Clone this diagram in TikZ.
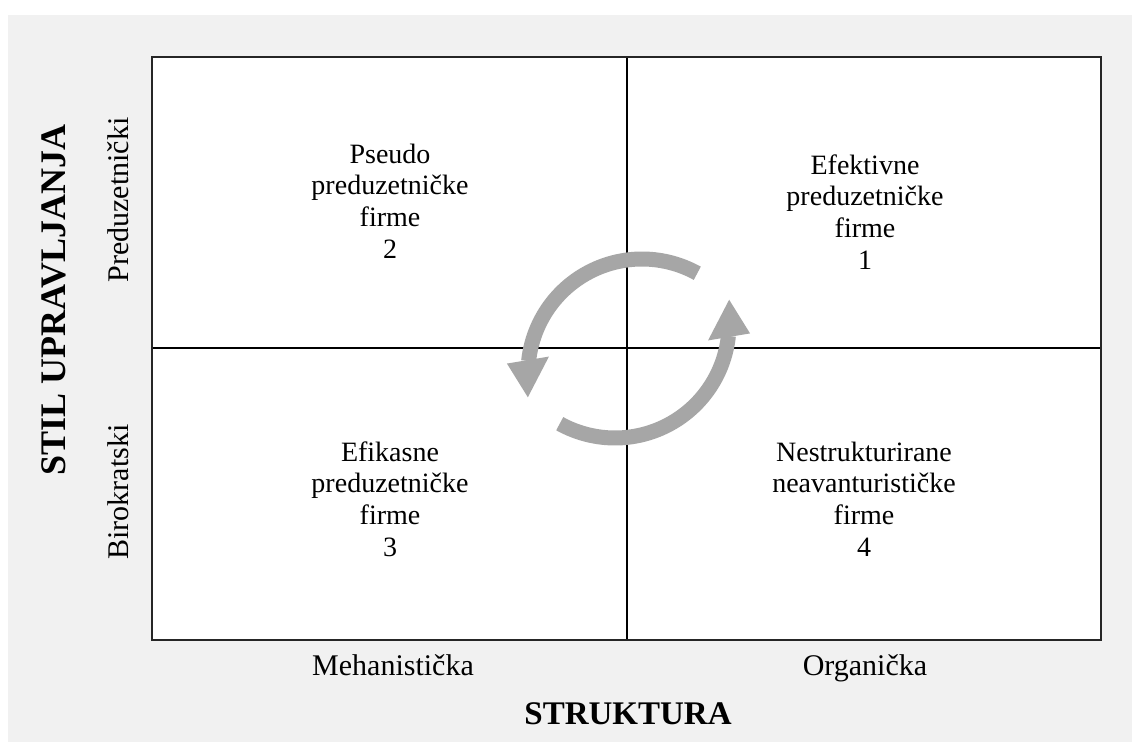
\documentclass[tikz,border=0pt]{standalone}
\usepackage{fontspec}
\setmainfont{Liberation Serif}
\definecolor{panel}{HTML}{F1F1F1}
\definecolor{arrowgray}{HTML}{A6A6A6}
\definecolor{boxline}{HTML}{262626}
\begin{document}
\begin{tikzpicture}[x=1pt,y=1pt,
  quad/.style={align=center, font=\fontsize{28}{31.8}\selectfont, inner sep=0pt},
  axislbl/.style={font=\fontsize{30}{34}\selectfont, inner sep=0pt, anchor=base},
  xtitle/.style={font=\fontsize{33}{38}\selectfont\bfseries, inner sep=0pt, anchor=base},
  ytitle/.style={font=\fontsize{36}{40}\selectfont\bfseries, inner sep=0pt, anchor=base, rotate=90},
  gridline/.style={line width=1.3pt, draw=black},
  frame/.style={line width=2pt, draw=boxline},
  cycbody/.style={line width=15pt, draw=arrowgray, line cap=butt},
  cychead/.style={fill=arrowgray}
]
\useasboundingbox (0,0) rectangle (1132,742);
\fill[white] (0,0) rectangle (1132,742);
\fill[panel] (8,0) rectangle (1132,727);

% matrix box
\coordinate (bl) at (152,102);
\coordinate (tr) at (1101,685);
\coordinate (tm) at (627,685);
\coordinate (bm) at (627,102);
\coordinate (lm) at (152,394);
\coordinate (rm) at (1101,394);
\fill[white] (bl) rectangle (tr);
\draw[gridline] (tm) -- (bm);
\draw[gridline] (lm) -- (rm);
\draw[frame] (bl) rectangle (tr);

% circular arrows
\coordinate (c1) at (642,369);
\coordinate (c2) at (615,418);
\draw[cycbody] ([shift={(61:114)}]c1) arc[start angle=61, end angle=174, radius=114];
\fill[cychead] ([shift={(176:135.4)}]c1) -- ([shift={(170:94.5)}]c1) -- ([shift={(192:116.7)}]c1) -- cycle;
\draw[cycbody] ([shift={(241:114)}]c2) arc[start angle=241, end angle=354, radius=114];
\fill[cychead] ([shift={(356:135.4)}]c2) -- ([shift={(350:94.5)}]c2) -- ([shift={(12:116.7)}]c2) -- cycle;

% quadrant texts
\node[quad] (q2) at (390,541) {Pseudo\\preduzetničke\\firme\\2};
\node[quad] (q1) at (865,530) {Efektivne\\preduzetničke\\firme\\1};
\node[quad] (q3) at (390,243) {Efikasne\\preduzetničke\\firme\\3};
\node[quad] (q4) at (864,243) {Nestrukturirane\\neavanturističke\\firme\\4};

% axis labels
\node[axislbl] (mech) at (393,67) {Mehanistička};
\node[axislbl] (org) at (865,67) {Organička};
\node[xtitle] (struk) at (628,18) {STRUKTURA};
\node[axislbl, rotate=90] (pred) at (128,542) {Preduzetnički};
\node[axislbl, rotate=90] (biro) at (128,250) {Birokratski};
\node[ytitle] (stil) at (65,442) {STIL UPRAVLJANJA};
\end{tikzpicture}
\end{document}
